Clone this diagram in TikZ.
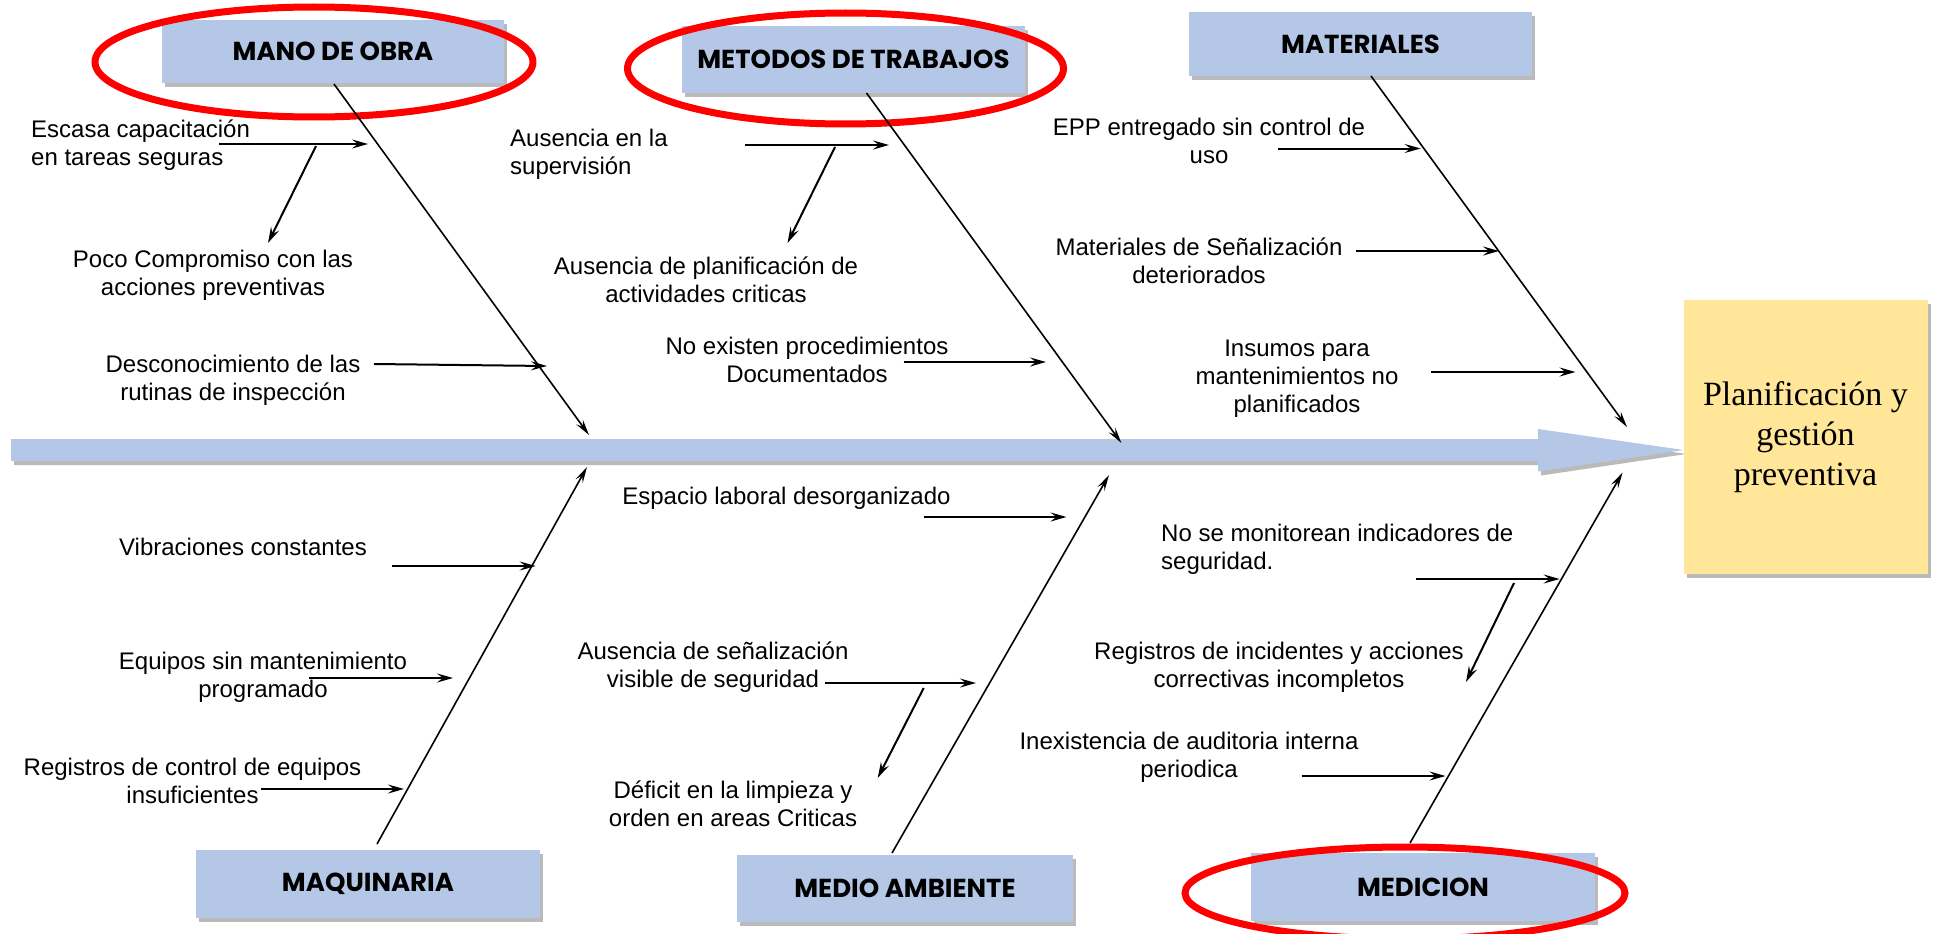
\documentclass[tikz,border=0pt]{standalone}
\usepackage{fontspec}
\setmainfont{Liberation Sans}
\newfontfamily\hdrfont{Poppins}
\newfontfamily\effserif{Liberation Serif}
\usetikzlibrary{shadows,arrows.meta,calc}
\definecolor{boneblue}{HTML}{B4C7E7}
\definecolor{effyellow}{HTML}{FFE699}
\definecolor{ringred}{HTML}{FF0000}
\begin{document}
\begin{tikzpicture}[x=1pt,y=-1pt,
  boxshadow/.style={drop shadow={shadow xshift=3pt,shadow yshift=-4pt,fill=black!60,opacity=0.45}},
  catbox/.style={fill=boneblue,boxshadow,inner sep=0pt,font=\hdrfont\bfseries\fontsize{26}{30}\selectfont},
  effbox/.style={fill=effyellow,boxshadow,inner sep=0pt,align=center,font=\effserif\fontsize{34}{40}\selectfont},
  cause/.style={inner sep=0pt,align=center,font=\fontsize{24}{28}\selectfont},
  causel/.style={inner sep=0pt,align=left,anchor=west,font=\fontsize{24}{28}\selectfont},
  bone/.style={line width=1.6pt,-{Stealth[length=16pt,width=8pt,inset=6pt]}},
  sub/.style={line width=2pt,-{Stealth[length=16pt,width=9pt,inset=6pt]}},
  ring/.style={draw=ringred,line width=7pt}]
\useasboundingbox (0,0) rectangle (1936,934);

% spine
\path[fill=boneblue,boxshadow] (11,439) -- (1538,439) -- (1538,429) -- (1683.5,450) -- (1538,471.5) -- (1538,461) -- (11,461) -- cycle;

% category boxes
\node[catbox,minimum width=342pt,minimum height=63pt] (mano) at (333,51.5) {MANO DE OBRA};
\node[catbox,minimum width=343pt,minimum height=67pt] (metodos) at (853.5,59.5) {METODOS DE TRABAJOS};
\node[catbox,minimum width=343pt,minimum height=64.5pt] (materiales) at (1360.5,44) {MATERIALES};
\node[catbox,minimum width=344pt,minimum height=68pt] (maquinaria) at (368,884) {MAQUINARIA};
\node[catbox,minimum width=336pt,minimum height=67pt] (medio) at (905,888.5) {MEDIO AMBIENTE};
\node[catbox,minimum width=344pt,minimum height=68pt] (medicion) at (1423,887) {MEDICION};
\node[effbox,minimum width=244pt,minimum height=274pt] (effect) at (1805.5,437) {Planificación y\\gestión\\preventiva};

% red rings
\draw[ring] (314,62) ellipse [x radius=219pt,y radius=55pt];
\draw[ring] (845.5,68.5) ellipse [x radius=218pt,y radius=55.5pt];
\draw[ring] (1405,893) ellipse [x radius=220pt,y radius=46pt];

% cause texts
\node[causel] (escasa) at (31,145) {Escasa capacitación\\en tareas seguras};
\node[cause] (poco) at (213,275) {Poco Compromiso con las\\acciones preventivas};
\node[cause] (descon) at (233,380) {Desconocimiento de las\\rutinas de inspección};
\node[causel] (ausup) at (510,154) {Ausencia en la\\supervisión};
\node[cause] (auplan) at (706,280) {Ausencia de planificación de\\actividades criticas};
\node[cause] (noexist) at (807,360) {No existen procedimientos\\Documentados};
\node[cause] (epp) at (1209,141) {EPP entregado sin control de\\uso};
\node[cause] (matsen) at (1199,261) {Materiales de Señalización\\deteriorados};
\node[cause] (insumos) at (1297,379) {Insumos para\\mantenimientos no\\planificados};
\node[cause] (vibr) at (243,547) {Vibraciones constantes};
\node[cause] (equipos) at (263,677) {Equipos sin mantenimiento\\programado};
\node[cause] (regctrl) at (192.5,781) {Registros de control de equipos\\insuficientes};
\node[cause] (espacio) at (786.5,498) {Espacio laboral desorganizado};
\node[cause] (ausenal) at (713,667) {Ausencia de señalización\\visible de seguridad};
\node[cause] (deficit) at (733,804) {Déficit en la limpieza y\\orden en areas Criticas};
\node[causel] (nosemon) at (1161,549) {No se monitorean indicadores de\\seguridad.};
\node[cause] (reginc) at (1279,667) {Registros de incidentes y acciones\\correctivas incompletos};
\node[cause] (inexist) at (1189,757) {Inexistencia de auditoria interna\\periodica};

% coordinates
\coordinate (manoS) at (334,84);      \coordinate (manoE) at (589,435);
\coordinate (escS) at (219,144);      \coordinate (escE) at (368,144);
\coordinate (escD) at (316,146);      \coordinate (pocoE) at (268,243);
\coordinate (desS) at (374,364);      \coordinate (desE) at (547,366);
\coordinate (metS) at (866.5,93);     \coordinate (metE) at (1121.4,443);
\coordinate (supS) at (745,145);      \coordinate (supE) at (889,145);
\coordinate (supD) at (835,147);      \coordinate (planE) at (787.5,243);
\coordinate (noxS) at (903.6,362);    \coordinate (noxE) at (1046,362);
\coordinate (matS) at (1371,76);      \coordinate (matE) at (1627,427);
\coordinate (eppS) at (1277.5,148.5); \coordinate (eppE) at (1420.6,148.5);
\coordinate (msS) at (1356,251);      \coordinate (msE) at (1499,251);
\coordinate (insS) at (1431,372);     \coordinate (insE) at (1575.5,372);
\coordinate (maqS) at (377,844);      \coordinate (maqE) at (587,467);
\coordinate (vibS) at (392,566);      \coordinate (vibE) at (535.7,566);
\coordinate (equS) at (309,678);      \coordinate (equE) at (453,678);
\coordinate (rcS) at (261,789);       \coordinate (rcE) at (404,789);
\coordinate (medS) at (892,853);      \coordinate (medE) at (1109,475);
\coordinate (espS) at (923.7,517);    \coordinate (espE) at (1066.5,517);
\coordinate (senS) at (825,683);      \coordinate (senE) at (976,683);
\coordinate (senD) at (923.7,688);    \coordinate (defE) at (877.7,778);
\coordinate (mciS) at (1410,843);     \coordinate (mciE) at (1622.5,472.6);
\coordinate (nsmS) at (1416,579);     \coordinate (nsmE) at (1559.6,579);
\coordinate (nsmD) at (1514,583);     \coordinate (riE) at (1466,682);
\coordinate (inxS) at (1301.5,776);   \coordinate (inxE) at (1445.5,776);

% bones
\draw[bone] (manoS) -- (manoE);
\draw[bone] (metS) -- (metE);
\draw[bone] (matS) -- (matE);
\draw[bone] (maqS) -- (maqE);
\draw[bone] (medS) -- (medE);
\draw[bone] (mciS) -- (mciE);

% sub-causes
\draw[sub] (escS) -- (escE);
\draw[sub] (escD) -- (pocoE);
\draw[sub] (desS) -- (desE);
\draw[sub] (supS) -- (supE);
\draw[sub] (supD) -- (planE);
\draw[sub] (noxS) -- (noxE);
\draw[sub] (eppS) -- (eppE);
\draw[sub] (msS) -- (msE);
\draw[sub] (insS) -- (insE);
\draw[sub] (vibS) -- (vibE);
\draw[sub] (equS) -- (equE);
\draw[sub] (rcS) -- (rcE);
\draw[sub] (espS) -- (espE);
\draw[sub] (senS) -- (senE);
\draw[sub] (senD) -- (defE);
\draw[sub] (nsmS) -- (nsmE);
\draw[sub] (nsmD) -- (riE);
\draw[sub] (inxS) -- (inxE);
\end{tikzpicture}
\end{document}
